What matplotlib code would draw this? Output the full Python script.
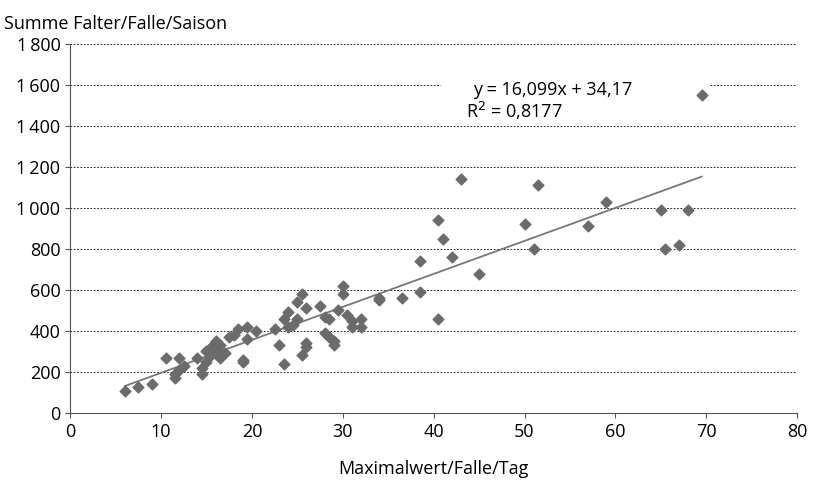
import matplotlib.pyplot as plt
import numpy as np

x = [6, 7.5, 9, 10.5, 11.5, 11.5, 12, 12, 12.5, 14, 14.5, 14.5, 15, 15, 15.5, 15.5, 16, 16, 16, 16.5,
     16.5, 17, 17.5, 18, 18.5, 19, 19, 19.5, 19.5, 20.5, 22.5, 23, 23.5, 23.5, 24, 24, 24.5, 25, 25, 25.5,
     25.5, 26, 26, 26, 27.5, 28, 28, 28.5, 28.5, 29, 29, 29.5, 30, 30, 30.5, 31, 31, 32, 32, 34,
     34, 36.5, 38.5, 38.5, 40.5, 40.5, 41, 42, 43, 45, 50, 51, 51.5, 57, 59, 65, 65.5, 67, 68, 69.5]
y = [105, 125, 140, 270, 170, 190, 210, 270, 230, 270, 190, 220, 250, 300, 280, 320, 290, 350, 310, 330,
     270, 290, 370, 380, 410, 250, 260, 420, 360, 400, 410, 330, 240, 460, 490, 420, 430, 460, 540, 580,
     280, 510, 340, 320, 520, 470, 390, 460, 370, 350, 330, 500, 580, 620, 480, 450, 420, 460, 420, 550,
     560, 560, 590, 740, 940, 460, 850, 760, 1140, 680, 920, 800, 1110, 910, 1030, 990, 800, 820, 990, 1550]
slope, intercept = 16.099, 34.17
yticks = [0, 200, 400, 600, 800, 1000, 1200, 1400, 1600, 1800]

plt.rcParams['font.family'] = ['Open Sans', 'DejaVu Sans']
fig = plt.figure(figsize=(8.26, 4.84), dpi=100)
ax = fig.add_axes([0.085, 0.147, 0.88, 0.762])
for t in yticks[1:]:
    ax.axhline(t, color='black', ls=(0, (2, 2)), lw=0.6, zorder=0)
# white label area that hides the grid line
ax.fill_between([40.8, 70.3], 1480, 1680, color='white', zorder=1)
ax.scatter(x, y, marker='D', s=30, color='#6b6b6b', zorder=3)
lx = np.array([min(x), max(x)])
ax.plot(lx, slope * lx + intercept, color='#777777', lw=1.3, zorder=2)
ax.text(44.3, 1575, 'y = 16,099x + 34,17', fontsize=13, ha='left', va='center', zorder=4)
ax.text(43.6, 1475, 'R$^2$ = 0,8177', fontsize=13, ha='left', va='center', zorder=4)
ax.set_xlim(0, 80)
ax.set_ylim(0, 1800)
ax.set_xticks(range(0, 81, 10))
ax.set_yticks(yticks)
ax.set_yticklabels([f'{t:,}'.replace(',', '\u2009') for t in yticks])
ax.tick_params(labelsize=13, color='#555555')
for s in ['top', 'right']:
    ax.spines[s].set_visible(False)
for s in ['left', 'bottom']:
    ax.spines[s].set_color('#555555')
ax.set_xlabel('Maximalwert/Falle/Tag', fontsize=13, labelpad=14)
fig.text(0.005, 0.968, 'Summe Falter/Falle/Saison', fontsize=13, va='top')
fig.savefig('out.png')
